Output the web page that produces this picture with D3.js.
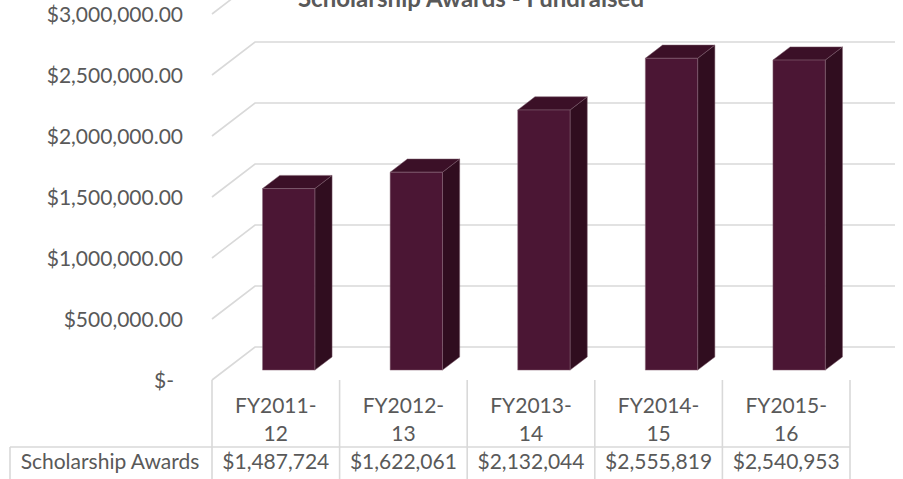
<!DOCTYPE html>
<html>
<head>
<meta charset="utf-8">
<script src="https://cdn.jsdelivr.net/npm/d3@7"></script>
<style>
  body { margin: 0; background: #fff; }
  text { font-family: Lato, "Open Sans", sans-serif; fill: #595959; }
</style>
</head>
<body>
<div id="chart"></div>
<script>
// data
var categories = ["FY2011-12", "FY2012-13", "FY2013-14", "FY2014-15", "FY2015-16"];
var catLine1 = ["FY2011-", "FY2012-", "FY2013-", "FY2014-", "FY2015-"];
var catLine2 = ["12", "13", "14", "15", "16"];
var awards = [1487724, 1622061, 2132044, 2555819, 2540953];
var yTicks = [0, 500000, 1000000, 1500000, 2000000, 2500000, 3000000];
var seriesName = "Scholarship Awards";
var title = "Scholarship Awards - Fundraised";

var width = 903, height = 479;
var fs = "21px";

var svg = d3.select("#chart")
  .append("svg")
    .attr("width", width)
    .attr("height", height);

// front plane scales, depth is pushed back by (dx, dy)
var depthX = 43, depthY = -33;
var x = d3.scaleBand()
  .domain(categories)
  .range([212, 850])
  .padding(0);
var y = d3.scaleLinear()
  .domain([0, 3000000])
  .range([380, 14]);

var gridColor = "#d9d9d9";

// gridlines: slanted side wall + back wall
var grid = svg.append("g");
yTicks.forEach(function(t) {
  var fy = y(t);
  grid.append("path")
    .attr("d", "M" + x.range()[0] + "," + fy +
               "L" + (x.range()[0] + depthX) + "," + (fy + depthY) +
               "L" + (x.range()[1] + depthX + 2) + "," + (fy + depthY))
    .attr("fill", "none")
    .attr("stroke", gridColor)
    .attr("stroke-width", 1.6);
});

// y axis labels
var fmt = d3.format("$,.2f");
svg.append("g").selectAll("text")
  .data(yTicks)
  .enter()
  .append("text")
    .attr("x", function(d) { return d === 0 ? 174 : 183; })
    .attr("y", function(d) { return y(d) + 7.5; })
    .attr("text-anchor", "end")
    .style("font-size", fs)
    .text(function(d) { return d === 0 ? "$-" : fmt(d); });

// bars
var barFrac = 0.41, zFront = 0.3, zBack = 0.7;
var bw = x.bandwidth() * barFrac;
function pt(px, v, z) {
  return [px + z * depthX, y(v) + z * depthY];
}
var bars = svg.append("g").selectAll("g")
  .data(awards)
  .enter()
  .append("g");

bars.each(function(d, i) {
  var g = d3.select(this);
  var x0 = x(categories[i]) + (x.bandwidth() - bw) / 2;
  var x1 = x0 + bw;
  var a = pt(x0, 0, zFront), b = pt(x1, 0, zFront),
      c = pt(x1, d, zFront), e = pt(x0, d, zFront);
  var bb = pt(x1, 0, zBack), bc = pt(x1, d, zBack), be = pt(x0, d, zBack);
  var line = function(p) { return "M" + p.map(function(q) { return q.join(","); }).join("L") + "Z"; };
  // side
  g.append("path").attr("d", line([b, bb, bc, c]))
    .attr("fill", "#300d1f").attr("stroke", "#7a5a6a").attr("stroke-width", 0.5);
  // top
  g.append("path").attr("d", line([e, c, bc, be]))
    .attr("fill", "#3b1027").attr("stroke", "#7a5a6a").attr("stroke-width", 0.5);
  // front
  g.append("path").attr("d", line([a, b, c, e]))
    .attr("fill", "#4b1634").attr("stroke", "#8a6a7a").attr("stroke-width", 0.5);
});

// data table
var table = svg.append("g");
var tTop = y(0), tMid = 447, tBot = 480;
table.append("line")
  .attr("x1", 10).attr("x2", x.range()[1])
  .attr("y1", tMid).attr("y2", tMid)
  .attr("stroke", gridColor).attr("stroke-width", 1.6);
table.append("line")
  .attr("x1", 10).attr("x2", 10)
  .attr("y1", tMid).attr("y2", tBot)
  .attr("stroke", gridColor).attr("stroke-width", 1.6);
var edges = categories.map(function(c) { return x(c); }).concat([x.range()[1]]);
table.selectAll(".vline")
  .data(edges)
  .enter()
  .append("line")
    .attr("x1", function(d) { return d; })
    .attr("x2", function(d) { return d; })
    .attr("y1", tTop).attr("y2", tBot)
    .attr("stroke", gridColor).attr("stroke-width", 1.6);

table.selectAll(".cat1")
  .data(catLine1)
  .enter()
  .append("text")
    .attr("x", function(d, i) { return x(categories[i]) + x.bandwidth() / 2; })
    .attr("y", 413)
    .attr("text-anchor", "middle")
    .style("font-size", fs)
    .text(function(d) { return d; });
table.selectAll(".cat2")
  .data(catLine2)
  .enter()
  .append("text")
    .attr("x", function(d, i) { return x(categories[i]) + x.bandwidth() / 2; })
    .attr("y", 441)
    .attr("text-anchor", "middle")
    .style("font-size", fs)
    .text(function(d) { return d; });

var vfmt = d3.format("$,.0f");
table.selectAll(".val")
  .data(awards)
  .enter()
  .append("text")
    .attr("x", function(d, i) { return x(categories[i]) + x.bandwidth() / 2; })
    .attr("y", 469)
    .attr("text-anchor", "middle")
    .style("font-size", fs)
    .text(function(d) { return vfmt(d); });
table.append("text")
  .attr("x", 110)
  .attr("y", 469)
  .attr("text-anchor", "middle")
  .style("font-size", fs)
  .text(seriesName);

// title (cut at the top edge, as in the source image)
svg.append("text")
  .attr("x", 471)
  .attr("y", 7)
  .attr("text-anchor", "middle")
  .style("font-size", "24px")
  .style("font-weight", "bold")
  .text(title);
</script>
</body>
</html>
